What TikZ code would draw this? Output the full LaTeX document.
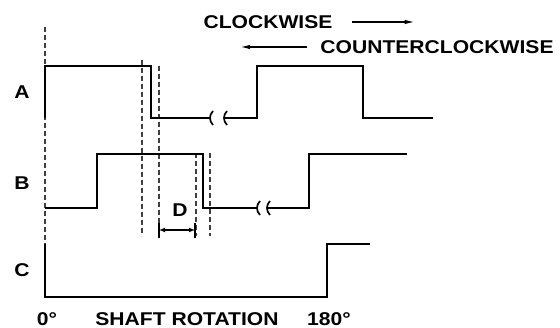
\documentclass[tikz,border=0pt]{standalone}
\usepackage{fontspec}
\newfontfamily\lblfont{Liberation Sans}[FakeStretch=1.14]
\usetikzlibrary{arrows.meta,positioning}
\newcommand{\gapmark}[2]{\draw[wave] (#1+2,#2-7) .. controls (#1-2,#2-3) and (#1-2,#2+3) .. (#1+2,#2+7);}

\begin{document}
\begin{tikzpicture}[
  x=1pt,y=-1pt,
  lbl/.style={font=\lblfont\bfseries\fontsize{18.5}{20}\selectfont,inner sep=0pt},
  wave/.style={line width=1.7pt},
  guide/.style={line width=1.3pt,black!75,dash pattern=on 5pt off 3pt},
  dir/.style={-{Latex[length=10pt,width=4.5pt]},line width=1.3pt},
  dim/.style={{Latex[length=6pt,width=5pt]}-{Latex[length=6pt,width=5pt]},line width=1.2pt}
]
\useasboundingbox (0,0) rectangle (560,328);
% direction of rotation
\node[lbl] (cw) at (268,22) {CLOCKWISE};
\node[lbl] (ccw) at (437,47) {COUNTERCLOCKWISE};
\draw[dir] ([xshift=19pt]cw.east) -- ([xshift=82pt]cw.east);
\draw[dir] ([xshift=-13pt]ccw.west) -- ([xshift=-80pt]ccw.west);
% channel names
\node[lbl] (chA) at (22,92) {A};
\node[lbl] (chB) at (22,183) {B};
\node[lbl] (chC) at (22,270) {C};
% reference lines
\draw[guide] (45,27) -- (45,245);
\draw[guide] (142,60) -- (142,236);
\draw[guide] (159,66) -- (159,236);
\draw[guide] (196,153) -- (196,236);
\draw[guide] (210,153) -- (210,236);
% channel A
\draw[wave] (45,118) -- (45,66) -- (151,66) -- (151,118) -- (211,118);
\gapmark{211}{118}
\gapmark{225}{118}
\draw[wave] (225,118) -- (257,118) -- (257,66) -- (363,66) -- (363,118) -- (433,118);
% channel B
\draw[wave] (45,208) -- (97,208) -- (97,154) -- (203,154) -- (203,208) -- (258,208);
\gapmark{258}{208}
\gapmark{268}{208}
\draw[wave] (268,208) -- (309,208) -- (309,154) -- (407,154);
% channel C
\draw[wave] (45,244) -- (45,297) -- (327,297) -- (327,244) -- (370,244);
% phase offset D
\coordinate (dl) at (159,230);
\coordinate (dr) at (195,230);
\draw[line width=1.2pt] (159,223) -- (159,238) (195,223) -- (195,238);
\draw[dim] (dl) -- (dr);
\node[lbl] (lblD) at (180,210) {D};
% axis
\node[lbl] (deg0) at (47,319) {0°};
\node[lbl] (shaft) at (187,319) {SHAFT ROTATION};
\node[lbl] (deg180) at (329,319) {180°};
\end{tikzpicture}
\end{document}
